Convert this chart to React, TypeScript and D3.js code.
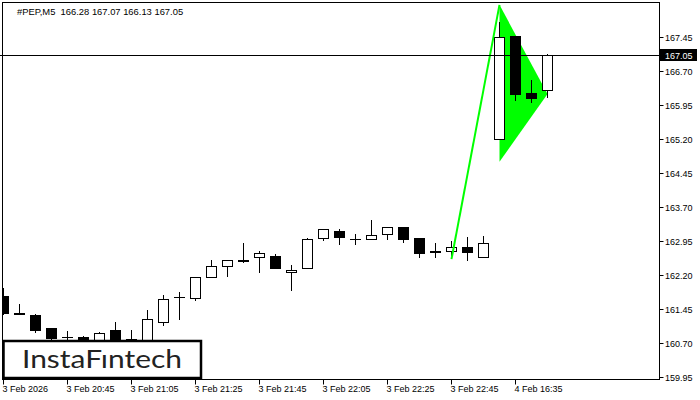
import React from "react";
import * as d3 from "d3";

const opens = [161.74, 161.37, 161.32, 161.02, 160.84, 160.83, 160.74, 160.98, 160.79, 160.76, 161.16, 161.71, 161.70, 162.16, 162.39, 162.53, 162.59, 162.62, 162.26, 162.35, 163.01, 163.16, 163.00, 162.99, 163.10, 163.25, 163.01, 162.70, 162.74, 162.81, 162.59, 165.19, 167.47, 166.21, 166.28];
const highs = [161.91, 161.56, 161.35, 161.02, 160.96, 160.85, 160.94, 161.16, 160.98, 161.43, 161.75, 161.82, 162.15, 162.53, 162.52, 162.91, 162.73, 162.66, 162.41, 163.01, 163.21, 163.21, 163.10, 163.41, 163.25, 163.25, 163.01, 162.90, 162.95, 163.03, 163.06, 167.78, 167.47, 166.50, 167.07];
const lows = [161.33, 161.34, 160.95, 160.77, 160.74, 160.70, 160.70, 160.72, 160.74, 160.72, 161.10, 161.24, 161.65, 162.16, 162.18, 162.49, 162.27, 162.36, 161.86, 162.35, 162.98, 162.89, 162.89, 162.99, 163.00, 162.93, 162.60, 162.60, 162.64, 162.53, 162.59, 165.19, 166.05, 166.02, 166.13];
const closes = [161.36, 161.34, 160.99, 160.82, 160.84, 160.76, 160.93, 160.76, 160.78, 161.22, 161.68, 161.71, 162.15, 162.40, 162.52, 162.51, 162.68, 162.36, 162.32, 162.99, 163.21, 163.04, 163.00, 163.08, 163.25, 162.99, 162.69, 162.74, 162.81, 162.71, 162.90, 167.44, 166.20, 166.11, 167.05];

const yTicks = [167.45, 166.70, 165.95, 165.20, 164.45, 163.70, 162.95, 162.20, 161.45, 160.70, 159.95];
const xTickIdx = [0, 4, 8, 12, 16, 20, 24, 28, 32];
const xTickLabels = ["3 Feb 2026", "3 Feb 20:45", "3 Feb 21:05", "3 Feb 21:25", "3 Feb 21:45", "3 Feb 22:05", "3 Feb 22:25", "3 Feb 22:45", "4 Feb 16:35"];

const poleIdx = [28, 31];
const polePrice = [162.55, 168.16];
const pennantIdx = [31, 34, 31];
const pennantPrice = [168.16, 166.19, 164.70];

const currentPrice = 167.05;
const title = "#PEP,M5  166.28 167.07 166.13 167.05";

const FONT = "'Liberation Sans', Arial, sans-serif";

export default function App() {
  const left = 2.5, top = 2.5, right = 659.5, bottom = 379.5;
  const x = d3.scaleLinear().domain([0, 34]).range([3, 547]);
  const y = d3.scaleLinear().domain([159.95, 167.45]).range([377, 37]);
  const ry = (v: number) => Math.round(y(v)) + 0.5;

  const poleLine = d3.line<number>()
    .x((d, i) => x(poleIdx[i]) + 0.5)
    .y((d) => y(d))(polePrice);
  const pennant = d3.line<number>()
    .x((d, i) => x(pennantIdx[i]) + 0.5)
    .y((d) => y(d))(pennantPrice) + "Z";

  const cp = ry(currentPrice);

  return (
    <svg width={700} height={400} style={{ position: "absolute", left: 0, top: 0, display: "block", background: "#fff" }}>
      <rect x={0} y={0} width={700} height={400} fill="#fff" />
      <defs>
        <clipPath id="plot">
          <rect x={left} y={top} width={right - left} height={bottom - top} />
        </clipPath>
      </defs>
      <g clipPath="url(#plot)">
        <path d={pennant} fill="#00ff00" stroke="none" />
        {opens.map((o, i) => {
          const c = closes[i];
          const cx = x(i);
          const yTop = ry(Math.max(o, c));
          const yBot = ry(Math.min(o, c));
          const bull = c >= o;
          return (
            <g key={i}>
              <line x1={cx + 0.5} x2={cx + 0.5} y1={ry(highs[i]) - 0.5} y2={ry(lows[i]) + 0.5} stroke="#000" strokeWidth={1} />
              {yBot - yTop < 1 ? (
                <line x1={cx - 5} x2={cx + 6} y1={yTop} y2={yTop} stroke="#000" strokeWidth={1} />
              ) : (
                <rect x={cx - 4.5} y={yTop} width={10} height={yBot - yTop} fill={bull ? "#fff" : "#000"} stroke="#000" strokeWidth={1} />
              )}
            </g>
          );
        })}
        <path d={poleLine as string} fill="none" stroke="#00ff00" strokeWidth={2} />
      </g>
      <line x1={0} x2={right} y1={cp} y2={cp} stroke="#000" strokeWidth={1} />
      <rect x={left} y={top} width={right - left} height={bottom - top} fill="none" stroke="#000" strokeWidth={1} />

      {/* Logo */}
      <rect x={3.5} y={341} width={197.5} height={37} fill="#fff" stroke="#000" strokeWidth={2.5} />
      <text x={22} y={367.5} fontFamily="Lato, 'Open Sans', sans-serif" fontWeight={400} fontSize={25} fill="#222" textLength={160} lengthAdjust="spacingAndGlyphs">InstaFıntech</text>

      {/* Y axis */}
      {yTicks.map((t, i) => (
        <g key={i}>
          <line x1={right} x2={right + 4} y1={ry(t)} y2={ry(t)} stroke="#000" />
          <text x={665} y={ry(t) + 3.5} fontFamily={FONT} fontSize={9} fill="#000">{t.toFixed(2)}</text>
        </g>
      ))}
      <rect x={660} y={49} width={37} height={12} fill="#000" />
      <text x={665} y={cp + 3.5} fontFamily={FONT} fontSize={9} fill="#fff">{currentPrice.toFixed(2)}</text>

      {/* X axis */}
      {xTickIdx.map((t, i) => (
        <g key={i}>
          <line x1={x(t) + 0.5} x2={x(t) + 0.5} y1={bottom} y2={bottom + 5} stroke="#000" />
          <text x={x(t) - 0.5} y={391.5} fontFamily={FONT} fontSize={9} fill="#000">{xTickLabels[i]}</text>
        </g>
      ))}

      <text x={17} y={14.5} fontFamily={FONT} fontSize={9.4} fill="#000" style={{ whiteSpace: "pre" }}>{title}</text>
    </svg>
  );
}
